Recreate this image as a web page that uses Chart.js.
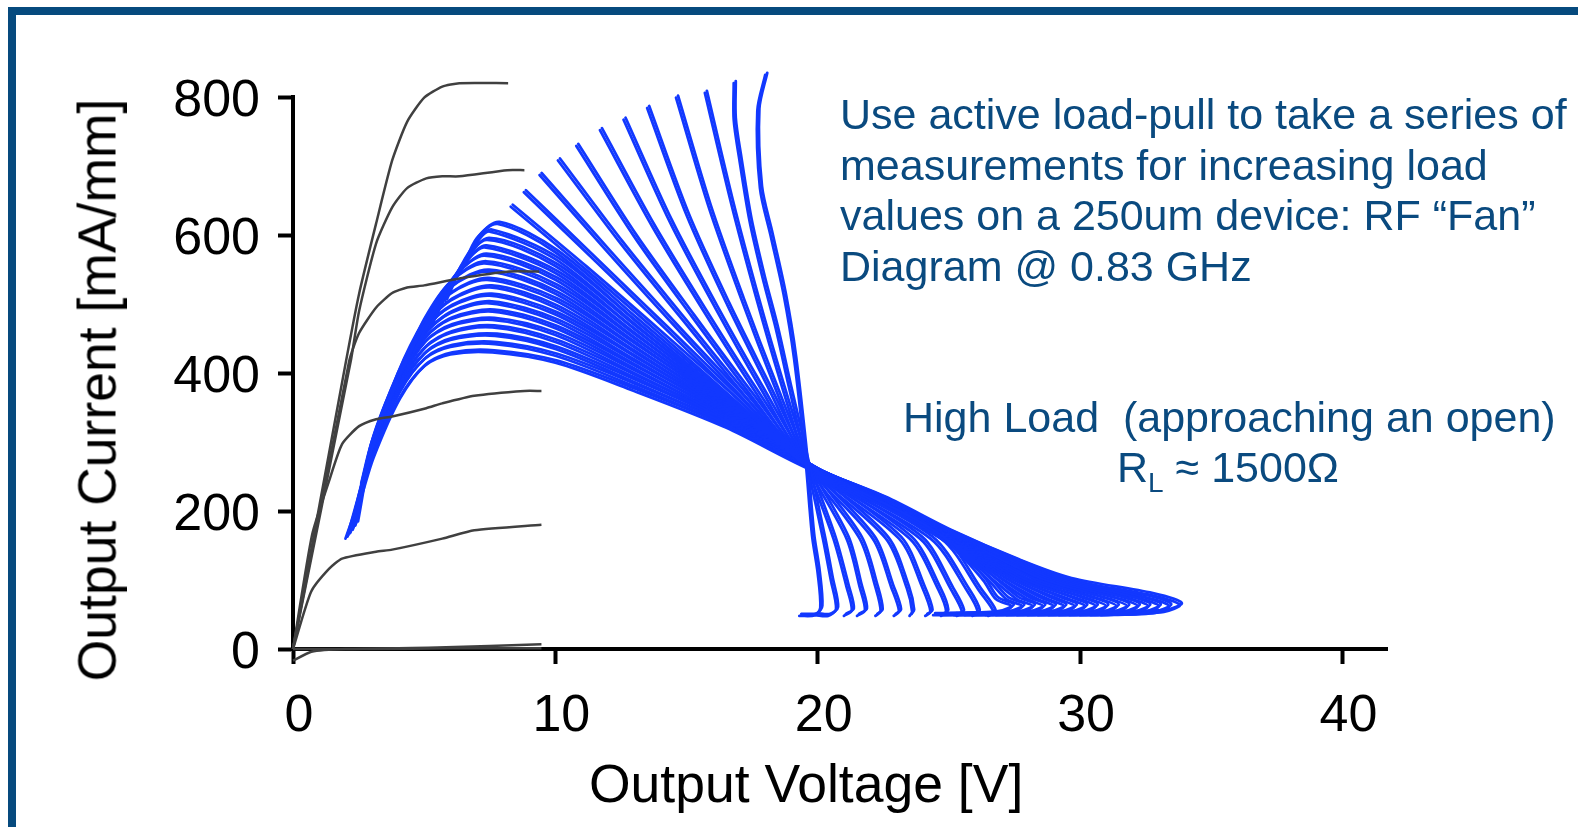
<!DOCTYPE html>
<html>
<head>
<meta charset="utf-8">
<script src="https://cdn.jsdelivr.net/npm/chart.js@4.4.1/dist/chart.umd.min.js"></script>
<style>
  html, body { margin: 0; padding: 0; background: #fff; }
  #wrap { position: relative; width: 1578px; height: 827px; overflow: hidden; font-family: "Liberation Sans", Arial, sans-serif; }
  #frame { position: absolute; left: 8px; top: 7px; right: 0; bottom: -20px; border-left: 8px solid #064a7e; border-top: 8px solid #064a7e; }
  #plot { position: absolute; left: 0; top: 0; }
  .txt { position: absolute; white-space: pre; }
  .axisTitle { color: #000; font-size: 53.5px; line-height: 53px; }
  .note { color: #0a4a7f; font-size: 43px; line-height: 50.5px; }
  .note sub { font-size: 28px; vertical-align: -10px; line-height: 0; }
</style>
</head>
<body>
<div id="wrap">
  <div id="frame"></div>
  <canvas id="plot" width="1578" height="827"></canvas>
  <div class="txt axisTitle" id="xTitle" style="left:589px; top:757px;">Output Voltage [V]</div>
  <div class="txt axisTitle" id="yTitle" style="left:97px; top:390px; transform: translate(-50%,-50%) rotate(-90deg);">Output Current [mA/mm]</div>
  <div class="txt note" style="left:840px; top:89px;">Use active load-pull to take a series of
measurements for increasing load
values on a 250um device: RF “Fan”
Diagram @ 0.83 GHz</div>
  <div class="txt note" style="left:903px; top:392px;">High Load  (approaching an open)</div>
  <div class="txt note" style="left:1117px; top:442px;">R<sub>L</sub> ≈ 1500Ω</div>
</div>
<script>
(function(){
  const xTicks = [0, 10, 20, 30, 40];
  const yTicks = [0, 200, 400, 600, 800];

  // DC I-V sweeps, one per gate bias (volts / mA per mm)
  const dcV = [
    [0, 2.02, 2.52, 3.17, 3.78, 4.35, 5.0, 5.69, 6.34, 8.2],
    [0, 2.2, 2.52, 3.17, 3.78, 4.35, 5.08, 5.69, 6.34, 8.17, 8.82],
    [0, 2.14, 2.52, 3.17, 3.78, 4.35, 5.0, 6.34, 8.24, 9.39],
    [0, 0.73, 1.37, 1.87, 2.52, 3.17, 3.78, 5.08, 5.69, 6.91, 8.82, 9.47],
    [0, 0.69, 1.37, 1.87, 3.17, 3.78, 5.69, 6.91, 9.47],
    [0, 0.7, 2.0, 5.5, 9.47],
    [0, 3.0, 6.0, 9.47]
  ];
  const dcI = [
    [0, 417, 515, 617, 708, 764, 799, 815, 820, 820],
    [0, 417, 490, 588, 640, 668, 682, 685, 685, 694, 694],
    [0, 417, 458, 495, 516, 524, 527, 537, 547, 547],
    [0, 166, 243, 297, 323, 333, 337, 349, 356, 367, 374, 374],
    [0, 83, 116, 131, 141, 144, 160, 172, 180],
    [-17, -4, 0, 2, 7],
    [0, 0, 1, 1]
  ];

  // RF load lines, lowest load (steepest) first
  const fanV = [
    [18.0, 17.7, 17.8, 18.2, 18.7, 19.1, 19.55, 19.7, 19.8, 20.0, 20.1, 19.9, 19.3],
    [16.8, 16.8, 17.0, 17.4, 17.9, 18.4, 18.9, 19.6, 20.2, 20.5, 20.7, 20.4, 19.9],
    [15.7, 16.7, 17.65, 18.6, 19.6, 20.6, 21.1, 21.3, 21.0],
    [14.6, 15.85, 17.1, 18.35, 19.6, 21.1, 21.6, 21.8, 21.5],
    [13.5, 15.0, 16.55, 18.1, 19.6, 21.6, 22.2, 22.4, 22.2],
    [12.6, 14.35, 16.1, 17.85, 19.6, 22.1, 22.8, 23.1, 22.9],
    [11.7, 13.7, 15.65, 17.6, 19.6, 22.6, 23.4, 23.6, 23.5],
    [10.8, 13.0, 15.2, 17.4, 19.6, 23.1, 24.0, 24.3, 24.1],
    [10.1, 12.5, 14.85, 17.2, 19.6, 23.5, 24.6, 24.9, 24.7],
    [9.4, 11.95, 14.5, 17.05, 19.6, 23.9, 25.1, 25.5, 25.3],
    [8.8, 11.5, 14.2, 16.9, 19.6, 24.3, 25.7, 26.1, 25.9],
    [8.3, 11.1, 13.95, 16.8, 19.6, 24.7, 26.2, 26.7, 26.5],
    [6.5, 7.0, 7.8, 10, 13, 16.5, 19.6, 22.5, 25, 26.3, 26.8, 27.4, 26.8, 24.4],
    [5.8, 6.4, 7.0, 7.5, 10, 13, 16.5, 19.6, 22.5, 25, 26.5, 27.2, 27.8, 27.2, 24.8],
    [5.2, 5.8, 6.5, 7.4, 10, 13, 16.5, 19.6, 22.5, 25, 26.7, 27.6, 28.2, 27.6, 25.2],
    [4.6, 5.2, 5.9, 6.6, 7.3, 10, 13, 16.5, 19.6, 22.5, 25, 26.9, 28.0, 28.6, 28.0, 25.6],
    [4.0, 4.6, 5.4, 6.2, 7.3, 10, 13, 16.5, 19.6, 22.5, 25, 27.1, 28.4, 29.0, 28.4, 26.0],
    [3.5, 4.2, 5.0, 6.0, 7.3, 10, 13, 16.5, 19.6, 22.5, 25, 27.3, 28.8, 29.4, 28.8, 26.4],
    [3.0, 4.0, 5.0, 6.0, 7.4, 10, 13, 16.5, 19.6, 22.5, 25, 27.5, 29.2, 29.8, 29.2, 26.8],
    [2.6, 3.0, 4.0, 5.0, 6.0, 7.4, 10, 13, 16.5, 19.6, 22.5, 25, 27.7, 29.6, 30.2, 29.6, 27.2],
    [2.4, 3.0, 4.0, 5.0, 6.0, 7.5, 10, 13, 16.5, 19.6, 22.5, 25, 27.9, 30.0, 30.6, 30.0, 27.6],
    [2.3, 3.0, 4.0, 5.0, 6.0, 7.5, 10, 13, 16.5, 19.6, 22.5, 25, 28.1, 30.4, 31.0, 30.4, 28.0],
    [2.3, 3.0, 4.0, 5.0, 6.0, 7.5, 10, 13, 16.5, 19.6, 22.5, 25, 28.4, 30.8, 31.4, 30.8, 28.4],
    [2.2, 3.0, 4.0, 5.0, 6.0, 7.6, 10, 13, 16.5, 19.6, 22.5, 25, 28.6, 31.2, 31.8, 31.2, 28.8],
    [2.2, 3.0, 4.0, 5.0, 6.0, 7.6, 10, 13, 16.5, 19.6, 22.5, 25, 28.8, 31.6, 32.2, 31.6, 29.2],
    [2.2, 3.0, 4.0, 5.0, 6.0, 7.6, 10, 13, 16.5, 19.6, 22.5, 25, 29.0, 32.0, 32.6, 32.0, 29.6],
    [2.1, 3.0, 4.0, 5.0, 6.0, 7.7, 10, 13, 16.5, 19.6, 22.5, 25, 29.2, 32.4, 33.0, 32.4, 30.0],
    [2.1, 3.0, 4.0, 5.0, 6.0, 7.7, 10, 13, 16.5, 19.6, 22.5, 25, 29.4, 32.8, 33.4, 32.8, 30.4],
    [2.0, 2.5, 3.0, 4.0, 5.0, 6.0, 7.6, 10, 13, 16.5, 19.6, 22.5, 25, 27.6, 29.6, 32.7, 33.8, 33.2, 30.8]
  ];
  const fanI = [
    [832, 780, 668, 600, 514, 421, 268, 200, 160, 110, 60, 49, 48],
    [820, 767, 713, 621, 538, 465, 380, 266, 160, 100, 58, 48, 49],
    [806, 646, 510, 385, 265, 160, 90, 56, 48],
    [799, 640, 506, 381, 265, 160, 90, 56, 48],
    [784, 629, 499, 380, 265, 160, 90, 55, 48],
    [767, 620, 494, 376, 265, 160, 90, 55, 48],
    [752, 612, 490, 374, 265, 160, 88, 54, 48],
    [729, 598, 482, 370, 265, 160, 88, 54, 48],
    [708, 587, 477, 368, 265, 160, 86, 54, 48],
    [687, 577, 470, 367, 265, 160, 85, 54, 48],
    [662, 563, 464, 364, 265, 160, 84, 54, 48],
    [641, 552, 458, 362, 265, 160, 82, 54, 48],
    [555, 595, 616, 575, 478, 365, 266, 207, 152, 100, 72, 62, 52, 49],
    [505, 555, 590, 605, 565, 472, 362, 266, 208, 153, 100, 72, 62, 52, 49],
    [465, 512, 560, 593, 555, 465, 360, 266, 208, 154, 100, 72, 62, 52, 49],
    [430, 475, 525, 562, 582, 545, 459, 357, 266, 209, 155, 100, 72, 62, 52, 49],
    [393, 440, 495, 542, 570, 535, 452, 354, 266, 210, 157, 100, 72, 62, 52, 49],
    [345, 410, 478, 532, 559, 525, 446, 352, 266, 210, 158, 100, 72, 62, 52, 49],
    [290, 400, 476, 524, 547, 515, 439, 349, 266, 211, 159, 100, 72, 62, 52, 49],
    [240, 300, 400, 472, 515, 535, 505, 433, 346, 265, 212, 160, 100, 72, 62, 52, 49],
    [182, 300, 398, 467, 505, 524, 495, 426, 343, 265, 212, 161, 100, 72, 62, 52, 49],
    [178, 299, 396, 462, 496, 512, 485, 420, 341, 265, 213, 162, 100, 72, 62, 52, 49],
    [176, 297, 393, 456, 487, 501, 475, 413, 338, 265, 214, 163, 100, 72, 62, 52, 49],
    [174, 295, 390, 450, 478, 489, 465, 407, 335, 264, 215, 164, 100, 72, 62, 52, 49],
    [172, 292, 385, 444, 468, 477, 455, 400, 332, 264, 215, 166, 100, 72, 62, 52, 49],
    [170, 290, 380, 436, 458, 466, 445, 394, 330, 264, 216, 167, 100, 72, 62, 52, 49],
    [168, 285, 375, 428, 448, 454, 435, 387, 327, 263, 217, 168, 100, 72, 62, 52, 49],
    [165, 282, 370, 420, 438, 442, 425, 381, 324, 263, 217, 169, 100, 72, 62, 52, 49],
    [160, 214, 275, 360, 410, 427, 430, 415, 374, 321, 262, 218, 170, 127, 100, 78, 64, 54, 49]
  ];

  const tickFont = { family: '"Liberation Sans", Arial, sans-serif', size: 52 };
  const fanColor = '#1238ff';

  function series(vs, is){
    return vs.map((v, i) => ({ x: v, y: is[i] }));
  }

  const datasets = [];
  // gray sweeps go first so they sit on top of the blue fan
  dcV.forEach((vs, k) => datasets.push({
    data: series(vs, dcI[k]),
    showLine: true, pointRadius: 0, borderColor: '#404040', borderWidth: 2.5,
    tension: 0.2, clip: false
  }));
  fanV.forEach((vs, k) => datasets.push({
    data: series(vs, fanI[k]),
    showLine: true, pointRadius: 0, borderColor: fanColor, borderWidth: 2.8,
    tension: 0.3, clip: false, borderCapStyle: 'round', borderJoinStyle: 'round',
    isLoop: true
  }));

  // each RF trace is a thin closed loop: stroke it with a second, offset strand
  const loopStrand = {
    id: 'loopStrand',
    beforeDatasetDraw(chart, args){
      if(!chart.data.datasets[args.index].isLoop) return;
      const ctx = chart.ctx;
      ctx.save();
      ctx.shadowColor = fanColor;
      ctx.shadowBlur = 0;
      ctx.shadowOffsetX = 2;
      ctx.shadowOffsetY = -2;
    },
    afterDatasetDraw(chart, args){
      if(!chart.data.datasets[args.index].isLoop) return;
      chart.ctx.restore();
    }
  };

  function axis(min, max, ticks, extra){
    return Object.assign({
      type: 'linear', min, max,
      afterBuildTicks: s => { s.ticks = ticks.map(v => ({ value: v })); },
      grid: { drawOnChartArea: false, drawTicks: true, tickLength: 15, tickWidth: 4, tickColor: '#000' },
      border: { display: true, color: '#000', width: 4 }
    }, extra);
  }

  new Chart(document.getElementById('plot'), {
    type: 'scatter',
    data: { datasets },
    plugins: [loopStrand],
    options: {
      responsive: false,
      animation: false,
      devicePixelRatio: 1,
      layout: { padding: { top: 97, right: 191, bottom: 0, left: 0 } },
      plugins: { legend: { display: false }, tooltip: { enabled: false } },
      scales: {
        x: axis(0, 41.7, xTicks, {
          afterFit: s => { s.height = 178; },
          ticks: { color: '#000', font: tickFont, padding: 21, labelOffset: 6, maxRotation: 0 }
        }),
        y: axis(0, 800, yTicks, {
          afterFit: s => { s.width = 293; },
          ticks: { color: '#000', font: tickFont, padding: 18, labelOffset: 5 }
        })
      }
    }
  });
})();
</script>
</body>
</html>
